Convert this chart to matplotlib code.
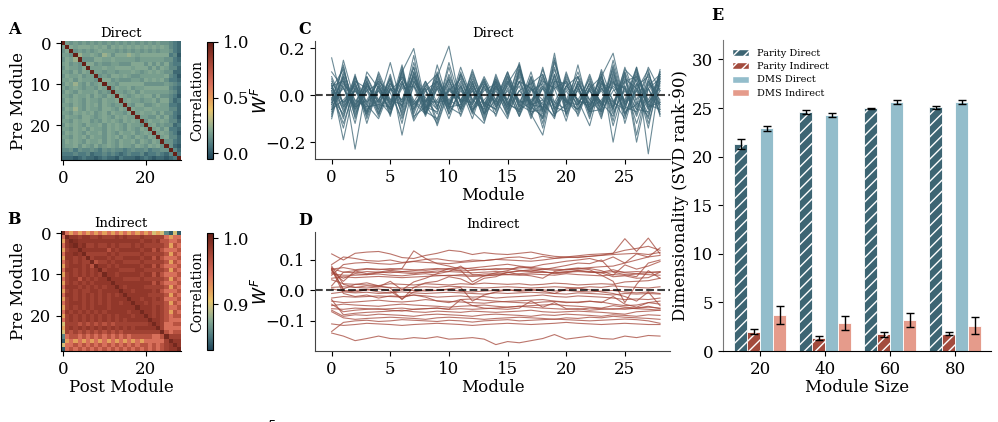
import numpy as np
import matplotlib
matplotlib.use("Agg")
import matplotlib.pyplot as plt
from matplotlib.colors import LinearSegmentedColormap
from matplotlib.patches import Patch

plt.rcParams['font.family'] = ['DejaVu Serif']
plt.rcParams['mathtext.fontset'] = 'dejavusans'
plt.rcParams['hatch.linewidth'] = 1.0

# ---- data ----
# correlation heatmaps: lower triangle, one digit per cell (diag = 1)
direct_tri = [
    "6", "57", "665", "5768", "67565", "576657", "6657576", "57667566",
    "667576665", "5768657567", "65676566576", "576576667565",
    "6657667576576", "57676576657667", "665765767576566",
    "5768657665776576", "66576767567576657", "576657765676576766",
    "6657677565767657676", "57676576675767657665", "665767576657676576576",
    "5767657667576576675676", "66576757665767576576576",
    "576765766757657667576576", "5667576575676576657657675",
    "44535445435454434544534455", "333433423343432343342334324",
    "2221232212322132221232122123",
]
indirect_tri = [
    "5", "48", "589", "4788", "58898", "488787", "5787877", "47888786",
    "588787878", "4787878787", "57886878788", "478787878888",
    "5888787878788", "47878778878888", "588787878787878",
    "4787878787878888", "57888787878788788", "478787878887888888",
    "5878787878788888788", "47878787878787888788", "578787878787878788888",
    "3777676767676777777778", "47878787878787878788888",
    "376767676767676777777777", "1566565656565656566666556",
    "04545454545454545454555557", "355656565656565656566565678",
    "0565656565656565656565656788",
]
direct_levels = [-0.03, 0.0, 0.04, 0.08, 0.12, 0.15, 0.18, 0.21, 0.25, 0.29]
indirect_levels = [0.84, 0.86, 0.88, 0.90, 0.92, 0.945, 0.965, 0.978, 0.986, 0.993]

# W^F rows across modules (x0.01 for direct, x0.001 for indirect)
direct_rows = [
    "16 -5 8 -3 2 -6 10 20 -4 -12 3 -2 6 -8 4 -5 12 -3 -10 15 -2 -6 3 8 18 -4 2 -8 10",
    "-9 15 -3 6 -8 3 -2 12 -5 8 21 -4 2 -10 6 -3 -7 5 9 -6 4 -2 -13 6 -5 10 -17 6 -4",
    "5 -19 4 -8 10 -2 6 -5 3 -13 2 7 -6 4 -9 5 13 -8 -17 6 -3 8 -2 -7 13 -5 12 -25 8",
    "-4 8 -23 5 -3 14 -5 17 -8 4 -6 10 -3 8 -2 -10 6 3 -6 18 -8 5 -4 10 -20 6 -4 12 2",
    "3 -6 6 -12 4 -4 9 -3 -8 6 -2 -5 11 -4 7 -2 14 -6 3 -8 10 -4 5 -9 6 -3 11 -6 9",
    "-2 12 -8 3 -6 8 -17 6 -3 9 -4 4 -7 -12 5 -6 2 -4 11 -3 -6 13 -7 3 -5 9 -20 3 -7",
    "6 -3 2 -7 8 -5 13 -9 -5 -2 7 -9 4 -3 -6 8 -4 10 -7 14 -2 -8 6 -4 11 -12 5 -4 10",
    "-7 10 -4 8 -2 -8 5 -4 2 -6 14 -3 9 -5 3 -9 11 -5 -9 5 -3 4 -10 8 -6 12 -2 9 -3",
    "2 -9 7 -4 -10 3 -2 8 -6 5 -5 12 -2 7 -4 6 -8 3 -4 -9 8 -3 2 -6 15 -4 7 -12 6",
    "-5 4 -12 10 3 -3 8 -2 -7 -10 4 -6 3 -8 9 -4 6 -9 6 3 -11 6 -5 4 -8 3 -9 5 -5",
    "8 -4 5 -5 -4 7 -6 14 -3 6 -8 3 -10 5 -2 10 -3 6 -12 9 -4 2 -7 11 -3 -6 10 -3 4",
    "-3 7 -6 2 5 -9 11 -6 4 -4 2 -2 7 -4 -8 3 -9 2 5 -5 6 -9 4 -3 7 -8 3 -10 11",
    "1 -12 3 -6 -2 5 -3 9 -8 13 -4 6 -5 2 5 -6 9 -4 -2 12 -6 5 -2 7 -13 4 -6 6 -2",
    "4 6 -9 7 -7 2 7 -11 -2 -8 8 -3 4 -11 3 -2 13 -7 8 -6 3 -4 9 -5 4 -2 12 -5 7",
    "-6 -2 4 -3 6 -6 3 4 -9 3 -7 9 -4 6 -5 7 -5 4 -14 7 -2 10 -4 2 -6 8 -5 3 -8",
    "10 3 -6 5 -5 9 -9 6 -1 -6 12 -7 2 -6 8 -3 4 -10 4 -3 7 -6 3 -10 10 -3 5 -14 9",
    "-1 -8 9 -10 3 -7 5 -3 6 -3 -2 5 -8 4 -4 4 -7 8 -6 16 -9 3 -5 6 -2 -10 8 -3 3",
    "3 11 -5 4 -3 4 -12 10 -6 8 -5 -4 5 -7 2 -8 10 -3 3 -4 4 -2 7 -8 5 3 -8 10 -6",
    "-8 5 -2 -5 7 -3 8 -4 3 -11 6 -2 -3 6 -7 5 -2 -6 12 -7 2 -7 3 -3 -9 7 3 -6 5",
    "2 -14 6 3 -8 6 -5 12 -7 4 -4 8 -6 -2 4 -5 8 -8 -3 8 -5 8 -9 5 3 -6 9 -2 8",
    "-3 3 -5 8 -4 -5 10 -8 5 -5 9 -3 3 -9 6 -8 2 5 -8 4 -3 -4 5 -5 9 -5 -7 7 -4",
    "7 -7 3 -9 5 -2 -4 5 -8 7 -3 4 -7 3 -3 9 -6 3 -2 -10 9 -3 -3 8 -11 10 -3 -9 6",
    "-10 9 -7 4 -2 7 -8 8 -2 -3 5 -6 8 -5 7 -4 6 -5 9 -5 -7 6 -6 -2 6 -8 4 8 -8",
    "4 -5 2 -4 9 -4 6 -6 4 9 -8 2 -4 7 -5 2 -9 7 -7 6 5 -5 8 -7 2 4 -12 3 7",
    "-2 13 -10 6 -6 3 -7 10 -5 -7 3 -5 10 -3 -6 6 -3 -2 4 -8 -4 4 -8 5 -4 11 6 -5 -3",
    "5 -10 8 -7 4 -8 12 -10 2 6 -6 9 -2 -6 4 -7 11 -4 -5 11 -3 -6 2 -4 12 -7 -4 4 9",
    "-6 6 -4 2 -9 5 -3 7 -8 3 -10 4 -7 5 -3 8 -5 8 -10 3 6 -2 -5 9 -7 2 -6 -7 2",
    "3 -3 5 -8 2 -6 4 -7 6 -5 7 -6 5 -4 6 -4 -6 -3 7 -9 4 8 -6 3 -3 6 8 -4 -6",
    "-4 8 -5 -2 6 1 -10 4 -4 10 -5 -8 6 -8 -2 10 -4 -7 -6 9 -8 3 -7 -6 8 -9 2 11 -9",
]
indirect_rows = [
    "120 100 122 126 128 120 108 105 115 122 132 128 118 124 120 118 122 126 118 112 110 114 118 120 122 132 138 145 132",
    "85 110 105 98 96 100 92 96 102 104 98 95 100 98 102 108 110 104 112 106 110 108 112 116 122 170 128 172 120",
    "70 75 68 72 70 68 72 130 105 88 80 70 74 78 82 86 80 76 85 90 96 100 105 95 110 90 120 110 140",
    "65 30 64 55 60 66 62 65 70 72 68 64 66 70 68 72 66 64 70 66 68 70 72 65 50 84 70 80 95",
    "72 60 58 62 60 58 62 60 60 64 62 60 58 60 62 60 64 62 60 58 60 62 60 58 62 60 62 60 60",
    "60 40 55 52 58 62 58 55 60 58 72 66 28 48 52 58 64 68 62 55 58 66 62 60 68 58 55 58 62",
    "68 5 20 25 15 8 -30 10 25 30 45 38 20 40 45 60 52 48 40 62 70 74 68 50 30 -40 20 65 40",
    "80 20 10 15 12 30 2 28 40 55 62 80 52 48 58 65 78 72 68 75 82 90 88 100 60 52 45 90 100",
    "55 50 50 52 54 50 48 52 55 50 48 52 50 54 55 52 50 54 52 50 55 52 50 48 52 50 54 52 50",
    "40 45 42 44 46 44 42 44 46 48 50 48 46 48 50 52 55 58 60 58 62 65 60 58 45 48 40 42 60",
    "35 22 20 18 16 22 20 18 22 20 18 22 20 24 22 20 22 18 20 24 22 18 20 22 20 28 30 32 40",
    "10 12 10 8 12 10 8 10 12 10 14 12 10 8 10 12 10 8 10 12 10 8 12 10 15 12 10 8 12",
    "75 0 -5 2 5 -2 -28 -5 2 0 5 10 -35 -15 -5 2 0 4 -2 -10 5 8 2 -5 -10 -20 -35 -5 -50",
    "5 -2 0 3 -5 -8 2 0 -2 0 3 -3 -5 -2 0 2 -3 0 2 -2 0 -3 -5 -2 0 -5 -8 -5 -10",
    "-10 -5 -8 -6 -10 -8 -5 -8 -10 -8 -6 -8 -10 -12 -8 -10 -8 -6 -8 -10 -12 -8 -10 -12 -15 -10 -12 -10 -12",
    "-25 -20 -22 -20 -18 -20 -22 -15 -18 -22 -20 -18 -22 -20 -25 -22 -20 -18 -15 -20 -22 -18 -20 -22 -25 -30 -28 -30 -25",
    "-35 -40 -38 -35 -32 -36 -38 -35 -30 -34 -36 -38 -40 -42 -38 -36 -34 -32 -30 -35 -38 -40 -36 -38 -45 -50 -48 -40 -45",
    "70 -10 -20 -15 -25 -18 -20 -15 -22 -35 -40 -30 -28 -32 -35 -38 -40 -42 -38 -36 -40 -38 -35 -40 -20 -45 -55 -40 -35",
    "-50 -45 -48 -50 -52 -48 -45 -48 -50 -52 -55 -52 -50 -48 -52 -55 -52 -50 -48 -46 -50 -52 -55 -58 -50 -55 -58 -52 -60",
    "-60 -62 -58 -60 -62 -60 -58 -62 -60 -58 -62 -60 -62 -60 -58 -55 -52 -55 -58 -60 -62 -60 -65 -62 -60 -62 -58 -55 -58",
    "-45 -70 -65 -62 -60 -65 -68 -62 -60 -58 -62 -30 -50 -58 -60 -62 -58 -35 -55 -40 -60 -62 -58 -60 -62 -58 -60 -62 -65",
    "-30 -80 -75 -72 -70 -68 -65 -70 -72 -68 -70 -72 -68 -70 -72 -70 -68 -65 -70 -72 -70 -68 -70 -72 -75 -78 -70 -68 -65",
    "-65 -85 -80 -82 -78 -80 -82 -85 -80 -78 -80 -82 -85 -80 -78 -80 -82 -85 -80 -82 -78 -80 -82 -85 -80 -82 -85 -80 -82",
    "-70 -90 -95 -92 -90 -88 -90 -92 -95 -90 -88 -90 -92 -95 -92 -90 -88 -90 -92 -95 -90 -92 -88 -90 -85 -88 -90 -92 -95",
    "-110 -115 -112 -108 -110 -112 -115 -112 -110 -108 -110 -112 -115 -112 -110 -108 -110 -112 -110 -108 -105 -108 -110 -112 -110 -108 -110 -112 -112",
    "-140 -150 -165 -158 -150 -158 -160 -155 -158 -152 -160 -158 -155 -160 -178 -168 -172 -165 -158 -145 -160 -155 -150 -158 -160 -150 -155 -148 -150",
    "50 85 90 92 88 86 90 95 92 90 88 92 95 98 102 100 98 96 100 105 108 110 112 115 118 120 122 118 125",
    "15 60 65 70 68 72 70 68 66 70 72 75 70 68 72 70 74 76 72 70 68 72 75 78 80 90 100 110 115",
    "-135 -105 -100 -98 -102 -100 -96 -98 -100 -102 -98 -100 -104 -100 -98 -96 -100 -98 -96 -94 -96 -98 -100 -98 -96 -94 -96 -100 -108",
]

# dimensionality bars
module_sizes = [20, 40, 60, 80]
bar_names = ["Parity Direct", "Parity Indirect", "DMS Direct", "DMS Indirect"]
bar_means = [
    [21.3, 24.6, 25.0, 25.1],
    [2.0, 1.3, 1.7, 1.8],
    [22.9, 24.3, 25.6, 25.6],
    [3.7, 2.9, 3.2, 2.6],
]
bar_errs = [
    [0.5, 0.2, 0.05, 0.15],
    [0.3, 0.2, 0.25, 0.2],
    [0.3, 0.2, 0.2, 0.2],
    [0.9, 0.7, 0.7, 0.9],
]
bar_colors = ["#3d6573", "#a34b3d", "#93bdcb", "#e59b8b"]
bar_hatch = ["///", "///", None, None]


def tri_to_matrix(tri, levels):
    n = len(tri) + 1
    m = np.ones((n, n))
    for i, row in enumerate(tri, start=1):
        for j, ch in enumerate(row):
            m[i, j] = m[j, i] = levels[int(ch)]
    return m


cmap = LinearSegmentedColormap.from_list("tealred", [
    (0.0, "#1f4458"), (0.12, "#4e7a80"), (0.25, "#86a993"), (0.35, "#c0bd85"),
    (0.42, "#e8c36a"), (0.52, "#e39a5a"), (0.64, "#d8705b"), (0.78, "#b24e3d"),
    (0.9, "#8a3326"), (1.0, "#652018")])

fig = plt.figure(figsize=(9.98, 4.22), dpi=100)
W, H = 998, 422


def px_axes(x0, y0, x1, y1):
    return fig.add_axes([x0 / W, 1 - y1 / H, (x1 - x0) / W, (y1 - y0) / H])


def heat(ax, cax, mat, vmin, vmax, title, cticks, xlabel=None):
    im = ax.imshow(mat, cmap=cmap, vmin=vmin, vmax=vmax, aspect="auto", interpolation="nearest")
    ax.set_xticks([0, 20])
    ax.set_yticks([0, 10, 20])
    ax.tick_params(labelsize=12)
    for s in ["top", "right"]:
        ax.spines[s].set_visible(False)
    ax.set_title(title, fontsize=9.5, pad=3)
    ax.set_ylabel("Pre Module", fontsize=12, labelpad=2)
    if xlabel:
        ax.set_xlabel(xlabel, fontsize=12, labelpad=1)
    cb = fig.colorbar(im, cax=cax, ticks=cticks)
    cb.ax.tick_params(labelsize=12)
    cb.ax.yaxis.set_label_position("left")
    cb.set_label("Correlation", fontsize=10, labelpad=2)
    return cb


# A
axA = px_axes(61, 41, 181, 160)
caxA = px_axes(207, 42, 213, 159)
heat(axA, caxA, tri_to_matrix(direct_tri, direct_levels), -0.05, 1.0, "Direct", [0.0, 0.5, 1.0])
fig.text(261 / W, 1 - 100 / H, "$W^F$", rotation=90, fontsize=12.5, ha="center", va="center")

# B
axB = px_axes(61, 231, 181, 351)
caxB = px_axes(207, 233, 213, 350)
heat(axB, caxB, tri_to_matrix(indirect_tri, indirect_levels), 0.831, 1.008, "Indirect", [0.9, 1.0],
     xlabel="Post Module")
fig.text(261 / W, 1 - 291 / H, "$W^F$", rotation=90, fontsize=12.5, ha="center", va="center")

# clipped label at the bottom edge
fig.text(250 / W, -15 / H, "$W^F$", fontsize=12, ha="left", va="baseline")


def lines(ax, rows, scale, color, title, ylim, yticks):
    for r in rows:
        v = np.array([float(t) for t in r.split()]) * scale
        ax.plot(np.arange(len(v)), v, color=color, lw=0.8, alpha=0.75)
    ax.axhline(0, color="black", ls="--", lw=1.5, alpha=0.75)
    ax.set_xlim(-1.42, 28.85)
    ax.set_ylim(*ylim)
    ax.set_xticks([0, 5, 10, 15, 20, 25])
    ax.set_yticks(yticks)
    ax.tick_params(labelsize=12)
    for s in ["top", "right"]:
        ax.spines[s].set_visible(False)
    for s in ["left", "bottom"]:
        ax.spines[s].set_color("#444444")
    ax.set_title(title, fontsize=9.5, pad=3)
    ax.set_xlabel("Module", fontsize=12, labelpad=1)


axC = px_axes(315, 41, 670, 159)
lines(axC, direct_rows, 0.01, "#3b6474", "Direct", (-0.272, 0.232), [-0.2, 0.0, 0.2])
axD = px_axes(315, 232, 670, 351)
lines(axD, indirect_rows, 0.001, "#a5473a", "Indirect", (-0.199, 0.192), [-0.1, 0.0, 0.1])

# E
axE = px_axes(723, 40, 991, 351)
xg = np.arange(len(module_sizes))
bw = 0.2
for k in range(4):
    xs = xg + (k - 1.5) * bw
    axE.bar(xs, bar_means[k], width=bw, color=bar_colors[k], edgecolor="white",
            linewidth=0.6, hatch=bar_hatch[k], label=bar_names[k])
    axE.errorbar(xs, bar_means[k], yerr=bar_errs[k], fmt="none", ecolor="black",
                 elinewidth=1.0, capsize=3, capthick=1.0)
axE.set_xticks(xg)
axE.set_xticklabels([str(s) for s in module_sizes])
axE.set_xlim(-0.57, 3.55)
axE.set_ylim(0, 32)
axE.set_yticks([0, 5, 10, 15, 20, 25, 30])
axE.tick_params(labelsize=12)
for s in ["top", "right"]:
    axE.spines[s].set_visible(False)
axE.spines["left"].set_color("#777777")
axE.set_ylabel("Dimensionality (SVD rank-90)", fontsize=12, labelpad=2)
axE.set_xlabel("Module Size", fontsize=12, labelpad=1)
handles = [Patch(facecolor=bar_colors[k], edgecolor="white", hatch=bar_hatch[k], label=bar_names[k])
           for k in range(4)]
axE.legend(handles=handles, loc="upper left", fontsize=7, frameon=False,
           bbox_to_anchor=(0.0, 1.0), handlelength=1.8, labelspacing=0.45)

# panel letters
for lab, x, y in [("A", 14, 30), ("B", 14, 219), ("C", 305, 30), ("D", 305, 220), ("E", 717, 15)]:
    fig.text(x / W, 1 - y / H, lab, fontsize=11.5, fontweight="bold", ha="center", va="center")

fig.savefig("out.png", dpi=100)
